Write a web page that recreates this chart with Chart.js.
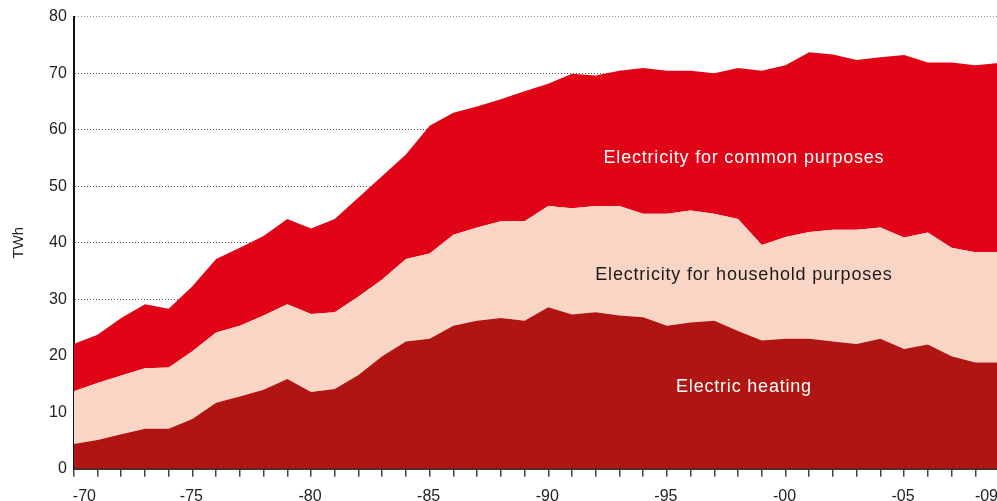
<!DOCTYPE html>
<html>
<head>
<meta charset="utf-8">
<script src="https://cdn.jsdelivr.net/npm/chart.js@4"></script>
<style>
  html, body { margin: 0; padding: 0; background: #fff; overflow: hidden; }
  #wrap { width: 1009px; height: 516px; }
</style>
</head>
<body>
<div id="wrap"><canvas id="energyChart" width="1009" height="516"></canvas></div>
<script>
var years = [];
for (var y = 1970; y <= 2009; y++) years.push(String(y));
var tickLabels = {"1970": "-70", "1975": "-75", "1980": "-80", "1985": "-85", "1990": "-90",
                  "1995": "-95", "2000": "-00", "2005": "-05", "2009": "-09"};

// cumulative levels (TWh)
var heating = [4.4, 5.1, 6.1, 7.1, 7.1, 8.8, 11.7, 12.8, 14.0, 15.9,
               13.6, 14.1, 16.6, 19.9, 22.5, 23.0, 25.3, 26.2, 26.7, 26.2,
               28.6, 27.3, 27.7, 27.1, 26.8, 25.3, 25.9, 26.2, 24.4, 22.7,
               23.0, 23.0, 22.5, 22.1, 23.0, 21.2, 22.0, 19.9, 18.8, 18.8];
var heatPlusHousehold = [13.7, 15.2, 16.5, 17.8, 17.9, 20.8, 24.1, 25.3, 27.1, 29.1,
                         27.4, 27.7, 30.5, 33.5, 37.1, 38.1, 41.4, 42.7, 43.8, 43.8,
                         46.5, 46.1, 46.5, 46.5, 45.1, 45.1, 45.7, 45.1, 44.2, 39.6,
                         41.0, 41.9, 42.3, 42.3, 42.7, 40.9, 41.8, 39.1, 38.3, 38.3];
var total = [22.1, 23.7, 26.7, 29.1, 28.3, 32.3, 37.1, 39.1, 41.2, 44.2,
             42.5, 44.2, 48.0, 51.8, 55.6, 60.7, 63.0, 64.1, 65.4, 66.8,
             68.1, 69.9, 69.6, 70.4, 70.9, 70.4, 70.4, 70.0, 70.9, 70.4,
             71.4, 73.7, 73.3, 72.3, 72.8, 73.2, 71.9, 71.9, 71.4, 71.8];

var household = heatPlusHousehold.map(function(v, i) { return +(v - heating[i]).toFixed(2); });
var common = total.map(function(v, i) { return +(v - heatPlusHousehold[i]).toFixed(2); });

var seriesNames = ["Electric heating", "Electricity for household purposes", "Electricity for common purposes"];
var seriesColors = ["#b01512", "#f9d5c6", "#e10416"];
var labelColors = ["#ffffff", "#1a1a1a", "#ffffff"];
var labelAt = years.indexOf("1998") + 0.25;
var labelLevels = [14.5, 34.2, 55.0];

var fontFamily = '"Liberation Sans", Arial, sans-serif';

// series names written inside their areas
var areaLabels = {
    id: 'areaLabels',
    afterDatasetsDraw: function(chart) {
        var ctx = chart.ctx;
        var x = chart.scales.x.getPixelForValue(labelAt);
        ctx.save();
        ctx.font = '18px ' + fontFamily;
        ctx.letterSpacing = '0.8px';
        ctx.textAlign = 'center';
        ctx.textBaseline = 'middle';
        for (var i = 0; i < seriesNames.length; i++) {
            ctx.fillStyle = labelColors[i];
            ctx.fillText(seriesNames[i], x, chart.scales.y.getPixelForValue(labelLevels[i]));
        }
        ctx.restore();
    }
};

var ctx = document.getElementById('energyChart').getContext('2d');
var chart = new Chart(ctx, {
    type: 'line',
    data: {
        labels: years,
        datasets: [{
            label: seriesNames[0],
            data: heating,
            backgroundColor: seriesColors[0],
            fill: 'origin'
        }, {
            label: seriesNames[1],
            data: household,
            backgroundColor: seriesColors[1],
            fill: '-1'
        }, {
            label: seriesNames[2],
            data: common,
            backgroundColor: seriesColors[2],
            fill: '-1'
        }]
    },
    options: {
        responsive: false,
        animation: false,
        elements: {
            point: { radius: 0 },
            line: { borderWidth: 0, tension: 0 }
        },
        layout: { padding: { top: 9, left: 10, bottom: 0, right: 0 } },
        plugins: {
            legend: { display: false },
            tooltip: { enabled: false }
        },
        scales: {
            x: {
                offset: false,
                grid: {
                    drawOnChartArea: false,
                    drawTicks: true,
                    tickLength: 8,
                    color: '#444',
                    lineWidth: 1.5
                },
                border: { display: true, color: '#333', width: 2 },
                ticks: {
                    autoSkip: false,
                    maxRotation: 0,
                    align: 'inner',
                    labelOffset: -1,
                    padding: 10,
                    color: '#222',
                    font: { family: fontFamily, size: 16 },
                    callback: function(value, index) {
                        return tickLabels[years[index]] || '';
                    }
                }
            },
            y: {
                stacked: true,
                min: 0,
                max: 80,
                grid: {
                    drawTicks: false,
                    color: function(c) { return c.tick && c.tick.value === 80 ? '#999' : '#555'; },
                    lineWidth: 1
                },
                border: { display: true, color: '#111', width: 2, dash: [1, 2] },
                ticks: {
                    stepSize: 10,
                    padding: 7,
                    color: '#222',
                    font: { family: fontFamily, size: 16 }
                },
                title: {
                    display: true,
                    text: 'TWh',
                    color: '#222',
                    padding: { top: 0, bottom: 14 },
                    font: { family: fontFamily, size: 15 }
                }
            }
        }
    },
    plugins: [areaLabels]
});
</script>
</body>
</html>
